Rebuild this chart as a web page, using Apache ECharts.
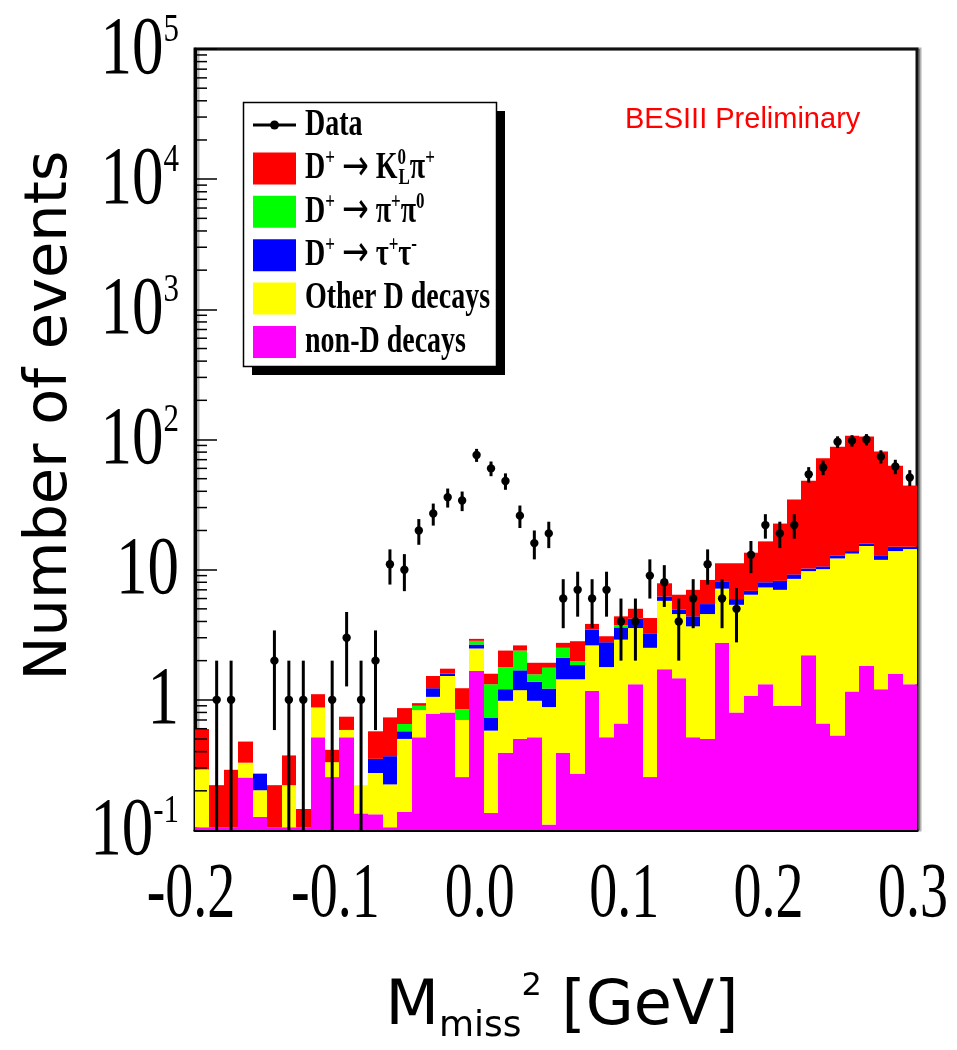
<!DOCTYPE html>
<html>
<head>
<meta charset="utf-8">
<script src="https://cdn.jsdelivr.net/npm/echarts@6.0.0/dist/echarts.min.js"></script>
<style>
  html, body { margin: 0; padding: 0; background: #fff; }
  #chart { width: 957px; height: 1050px; }
</style>
</head>
<body>
<div id="chart"></div>
<script>
// Missing-mass-squared histogram, 0.01 GeV bins from -0.2 to 0.3
const binStart = [
  -0.20, -0.19, -0.18, -0.17, -0.16, -0.15, -0.14, -0.13, -0.12, -0.11,
  -0.10, -0.09, -0.08, -0.07, -0.06, -0.05, -0.04, -0.03, -0.02, -0.01,
   0.00,  0.01,  0.02,  0.03,  0.04,  0.05,  0.06,  0.07,  0.08,  0.09,
   0.10,  0.11,  0.12,  0.13,  0.14,  0.15,  0.16,  0.17,  0.18,  0.19,
   0.20,  0.21,  0.22,  0.23,  0.24,  0.25,  0.26,  0.27,  0.28,  0.29
];
const BIN_WIDTH = 0.01;

// Observed events per bin
const dataCounts = [
  0, 1, 1, 0, 0, 2, 1, 1, 0, 1,
  3, 1, 2, 11, 10, 20, 27, 36, 34, 76,
  60, 48, 26, 16, 19, 6, 7, 6, 7, 4,
  4, 9, 8, 4, 6, 11, 6, 5, 13, 22,
  19, 22, 54, 61, 96, 98, 100, 74, 62, 51
];

// MC components (stacked from the bottom up)
const nonD = [
  0.105, 0.105, 0.105, 0.253, 0.126, 0.105, 0.105, 0.105, 0.515, 0.255,
  0.515, 0.134, 0.132, 0.105, 0.138, 0.515, 0.778, 0.800, 0.255, 1.665,
  0.135, 0.392, 0.501, 0.515, 0.110, 0.392, 0.271, 1.171, 0.515, 0.659,
  1.317, 0.255, 1.715, 1.464, 0.515, 0.501, 2.740, 0.800, 1.073, 1.317,
  0.900, 0.900, 2.200, 0.659, 0.531, 1.157, 1.817, 1.207, 1.587, 1.317
];
const otherD = [
  0.187, 0, 0, 0.076, 0.076, 0, 0.116, 0, 0.359, 0.077,
  0.072, 0.087, 0.142, 0.119, 0.363, 0.319, 0.276, 0.725, 0.445, 0.815,
  0.445, 0.591, 0.685, 0.468, 0.770, 1.046, 1.167, 1.449, 1.271, 2.241,
  2.243, 2.255, 4.045, 3.096, 3.155, 4.059, 4.410, 4.570, 5.347, 5.983,
  6.10, 7.60, 7.55, 9.44, 11.67, 12.14, 13.38, 10.69, 12.31, 13.08
];
const tauNu = [
  0, 0, 0, 0, 0.069, 0, 0, 0, 0, 0,
  0, 0, 0.078, 0.145, 0.072, 0, 0.174, 0.062, 0, 0.180,
  0.145, 0.224, 0.499, 0.396, 0.340, 0.662, 0.411, 0.840, 0.984, 0.700,
  0.640, 0.700, 0.460, 0.360, 0.710, 0.880, 0.900, 0.570, 0.450, 0.700,
  1.20, 0.70, 0.45, 0.50, 0.60, 0.60, 0.70, 1.00, 1.10, 0.60
];
const pipi0 = [
  0, 0, 0, 0, 0, 0, 0, 0, 0, 0,
  0, 0, 0, 0, 0.079, 0.066, 0, 0, 0.149, 0.180,
  0.592, 0.579, 0.705, 0.192, 0.544, 0.410, 0.136, 0, 0, 0.150,
  0, 0, 0, 0, 0, 0, 0, 0, 0, 0,
  0, 0, 0, 0, 0, 0, 0, 0, 0, 0
];
const klpi = [
  0.305, 0.116, 0.185, 0.149, 0, 0.116, 0.153, 0.040, 0.231, 0.081,
  0.155, 0, 0.221, 0.364, 0.212, 0.043, 0.297, 0.148, 0.379, 0.100,
  0.270, 0.604, 0.230, 0.355, 0.162, 0.230, 0.835, 0.370, 0.310, 0.630,
  0.81, 1.04, 1.64, 1.50, 2.62, 2.89, 3.15, 5.26, 6.63, 8.50,
  14.4, 25.4, 38.1, 61.3, 75.2, 92.8, 89.6, 67.8, 47.8, 29.3
];

// Axis tick values and labels
const xTickValues = [-0.2, -0.1, 0.0, 0.1, 0.2, 0.3];
const xTickLabels = ['-0.2', '-0.1', '0.0', '0.1', '0.2', '0.3'];
const yTickValues = [0.1, 1, 10, 100, 1000, 10000, 100000];
const yTickLabels = [
  '{b|10}{s|-1}', '{b|1}', '{b|10}', '{b|10}{s|2}',
  '{b|10}{s|3}', '{b|10}{s|4}', '{b|10}{s|5}'
];
const yMinorTicks = [
  0.2, 0.3, 0.4, 0.5, 0.6, 0.7, 0.8, 0.9,
  2, 3, 4, 5, 6, 7, 8, 9,
  20, 30, 40, 50, 60, 70, 80, 90,
  200, 300, 400, 500, 600, 700, 800, 900,
  2000, 3000, 4000, 5000, 6000, 7000, 8000, 9000,
  20000, 30000, 40000, 50000, 60000, 70000, 80000, 90000
];

// Legend entries, top to bottom
const legendEntries = [
  { text: 'Data', color: '#000000', marker: true },
  { text: 'D{sup|+} {arr|\u2192} K{supk|0}{sub|L}\u03c0{sup|+}', color: '#ff0000' },
  { text: 'D{sup|+} {arr|\u2192} \u03c0{sup|+}\u03c0{sup|0}', color: '#00ff00' },
  { text: 'D{sup|+} {arr|\u2192} \u03c4{sup|+}\u03c4{sup|-}', color: '#0000ff' },
  { text: 'Other D decays', color: '#ffff00' },
  { text: 'non-D decays', color: '#ff00ff' }
];

const Y_MIN = 0.1;
const X_MIN = -0.2;

const components = [
  { name: 'non-D decays',                 values: nonD,   color: '#ff00ff' },
  { name: 'Other D decays',               values: otherD, color: '#ffff00' },
  { name: 'D+ \u2192 \u03c4+\u03c4-',     values: tauNu,  color: '#0000ff' },
  { name: 'D+ \u2192 \u03c0+\u03c00',     values: pipi0,  color: '#00ff00' },
  { name: 'D+ \u2192 K0L\u03c0+',         values: klpi,   color: '#ff0000' }
];

// Cumulative lower/upper edges of each stacked component
const running = binStart.map(() => 0);
const stackSeries = components.map((c) => {
  const rows = binStart.map((x, i) => {
    const lo = running[i];
    const hi = lo + c.values[i];
    running[i] = hi;
    return [x, Math.max(lo, Y_MIN), hi];
  });
  return {
    type: 'custom',
    name: c.name,
    clip: true,
    z: 2,
    itemStyle: { color: c.color },
    encode: { x: 0, y: 2 },
    data: rows,
    renderItem: (params, api) => {
      const x0 = api.value(0);
      const lo = api.value(1);
      const hi = api.value(2);
      if (!(hi > lo)) return null;
      const pTop = api.coord([x0, hi]);
      const pBot = api.coord([x0 + BIN_WIDTH, lo]);
      const xl = Math.round(pTop[0]);
      const xr = Math.round(pBot[0]);
      return {
        type: 'rect',
        shape: { x: xl, y: pTop[1], width: xr - xl, height: pBot[1] - pTop[1] },
        style: { fill: c.color }
      };
    }
  };
});

// Data points with Poisson error bars
const dataSeries = {
  type: 'custom',
  name: 'Data',
  clip: true,
  z: 5,
  itemStyle: { color: '#000' },
  encode: { x: 0, y: 1 },
  data: binStart.map((x, i) => [x + BIN_WIDTH / 2, dataCounts[i]]),
  renderItem: (params, api) => {
    const x = api.value(0);
    const n = api.value(1);
    if (!(n > 0)) return null;
    const err = Math.sqrt(n);
    const c = api.coord([x, n]);
    const up = api.coord([x, n + err]);
    const dn = api.coord([x, Math.max(n - err, Y_MIN * 0.5)]);
    return {
      type: 'group',
      children: [
        { type: 'line', shape: { x1: c[0], y1: up[1], x2: c[0], y2: dn[1] },
          style: { stroke: '#000', lineWidth: 3 } },
        { type: 'circle', shape: { cx: c[0], cy: c[1], r: 4.2 },
          style: { fill: '#000' } }
      ]
    };
  }
};

// Short inside ticks at 2..9 x 10^k on the log axis
const minorTickSeries = {
  type: 'custom',
  name: 'minorTicks',
  silent: true,
  z: 6,
  encode: { y: 0 },
  data: yMinorTicks.map(v => [v]),
  renderItem: (params, api) => {
    const p = api.coord([X_MIN, api.value(0)]);
    return {
      type: 'line',
      shape: { x1: p[0], y1: p[1], x2: p[0] + 12, y2: p[1] },
      style: { stroke: '#000', lineWidth: 1.5 }
    };
  }
};

// Tall serif tick labels placed from the axis scales
const xLabelSeries = {
  type: 'custom',
  name: 'xLabels',
  silent: true,
  clip: false,
  z: 7,
  encode: { x: 0, y: 1 },
  data: xTickValues.map(v => [v, Y_MIN]),
  renderItem: (params, api) => {
    const p = api.coord([api.value(0), Y_MIN]);
    return {
      type: 'text',
      x: p[0] - 4, y: p[1] + 65, scaleY: 1.4,
      style: {
        text: xTickLabels[params.dataIndex],
        font: '56px "Liberation Serif", "Times New Roman", serif',
        fill: '#000', align: 'center', verticalAlign: 'middle'
      }
    };
  }
};

const yLabelSeries = {
  type: 'custom',
  name: 'yLabels',
  silent: true,
  clip: false,
  z: 7,
  encode: { x: 0, y: 1 },
  data: yTickValues.map(v => [X_MIN, v]),
  renderItem: (params, api) => {
    const p = api.coord([X_MIN, api.value(1)]);
    return {
      type: 'text',
      x: p[0] - 16, y: p[1] + 2, scaleY: 1.3,
      style: {
        text: yTickLabels[params.dataIndex],
        fill: '#000', align: 'right', verticalAlign: 'middle',
        rich: {
          b: { fontFamily: 'Liberation Serif', fontSize: 63, lineHeight: 63, fill: '#000' },
          s: { fontFamily: 'Liberation Serif', fontSize: 31, lineHeight: 50, verticalAlign: 'top', fill: '#000' }
        }
      }
    };
  }
};

// Legend box with drop shadow
const LEG = { x: 243, y: 102, w: 253, h: 264, row0: 125, rowStep: 43.4 };
const legendRich = {
  sup: { fontFamily: 'Liberation Serif', fontWeight: 'bold', fontSize: 17, lineHeight: 18, verticalAlign: 'top', fill: '#000' },
  supk: { fontFamily: 'Liberation Serif', fontWeight: 'bold', fontSize: 17, lineHeight: 18, verticalAlign: 'top', width: 1, fill: '#000' },
  sub: { fontFamily: 'Liberation Serif', fontWeight: 'bold', fontSize: 17, lineHeight: 18, verticalAlign: 'bottom', fill: '#000' },
  arr: { fontFamily: 'DejaVu Sans', fontWeight: 'normal', fontSize: 32, fill: '#000' }
};
const legendGraphics = [
  { type: 'rect', z: 20, shape: { x: LEG.x + 9, y: LEG.y + 9, width: LEG.w, height: LEG.h }, style: { fill: '#000' } },
  { type: 'rect', z: 21, shape: { x: LEG.x + 0.5, y: LEG.y + 0.5, width: LEG.w, height: LEG.h },
    style: { fill: '#fff', stroke: '#000', lineWidth: 1.5 } }
];
legendEntries.forEach((e, i) => {
  const cy = LEG.row0 + i * LEG.rowStep;
  if (e.marker) {
    legendGraphics.push(
      { type: 'rect', z: 22, shape: { x: 253, y: cy - 1.5, width: 43, height: 3 }, style: { fill: '#000' } },
      { type: 'circle', z: 22, shape: { cx: 274.5, cy: cy, r: 4.5 }, style: { fill: '#000' } }
    );
  } else {
    legendGraphics.push(
      { type: 'rect', z: 22, shape: { x: 253, y: cy - 16, width: 43, height: 32 }, style: { fill: e.color } }
    );
  }
  legendGraphics.push({
    type: 'text', z: 22, x: 305, y: cy, scaleY: 1.35,
    style: {
      text: e.text, fill: '#000', verticalAlign: 'middle',
      font: 'bold 28px "Liberation Serif", "Times New Roman", serif',
      rich: legendRich
    }
  });
});

const chart = echarts.init(document.getElementById('chart'), null, { renderer: 'canvas' });

chart.setOption({
  backgroundColor: '#fff',
  animation: false,
  grid: {
    left: 195, right: 40, top: 49, bottom: 210,
    show: true, borderColor: '#111', borderWidth: 3,
    backgroundColor: '#fff',
    shadowColor: 'rgba(0,0,0,0.3)', shadowOffsetX: 3, shadowOffsetY: 0, shadowBlur: 0
  },
  xAxis: {
    type: 'value',
    min: -0.2, max: 0.3, interval: 0.1,
    name: '{m|M}{sub|miss}{sup|2}{m| [GeV]}',
    nameLocation: 'middle',
    nameGap: 141,
    nameTextStyle: {
      fontFamily: 'DejaVu Sans', color: '#000', padding: [0, 0, 0, 12],
      rich: {
        m: { fontSize: 62, fontFamily: 'DejaVu Sans', lineHeight: 74, color: '#000' },
        sub: { fontSize: 36, fontFamily: 'DejaVu Sans', verticalAlign: 'bottom', lineHeight: 36, color: '#000' },
        sup: { fontSize: 32, fontFamily: 'DejaVu Sans', verticalAlign: 'top', lineHeight: 40, color: '#000' }
      }
    },
    axisLine: { onZero: false, lineStyle: { color: '#000', width: 3 } },
    axisTick: { show: false },
    splitLine: { show: false },
    axisLabel: { show: false }
  },
  yAxis: {
    type: 'log', logBase: 10,
    min: 0.1, max: 100000,
    name: 'Number of events',
    nameLocation: 'middle',
    nameGap: 115,
    nameTextStyle: { fontFamily: 'DejaVu Sans', fontSize: 59, color: '#000', padding: [0, 0, 0, 48] },
    axisLine: { onZero: false, lineStyle: { color: '#000', width: 3 } },
    axisTick: { inside: true, length: 22, lineStyle: { color: '#000', width: 1.5 } },
    splitLine: { show: false },
    axisLabel: { show: false }
  },
  graphic: [
    {
      type: 'text', left: 625, top: 105, z: 10,
      style: { text: 'BESIII Preliminary', fill: '#ff0000', font: '29px "Liberation Sans", Arial, sans-serif' }
    },
    ...legendGraphics
  ],
  series: [...stackSeries, dataSeries, minorTickSeries, xLabelSeries, yLabelSeries]
});
</script>
</body>
</html>
